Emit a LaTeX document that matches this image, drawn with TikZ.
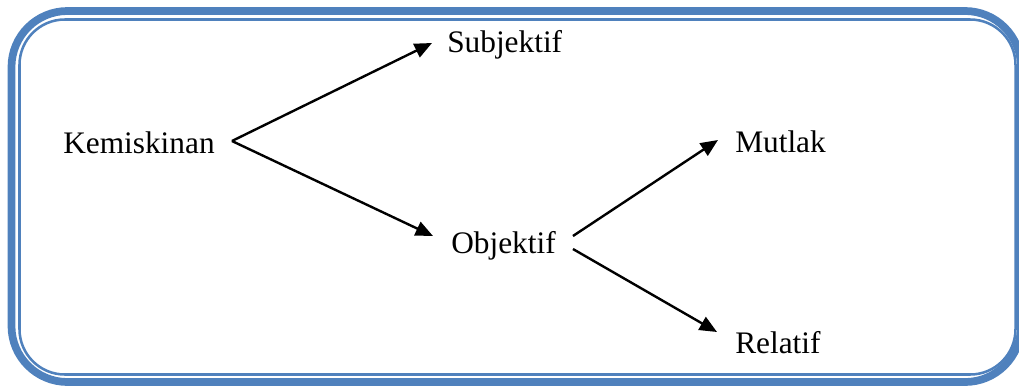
\documentclass[tikz,border=0pt]{standalone}
\usepackage{fontspec}
\setmainfont{Liberation Serif}
\usetikzlibrary{arrows.meta}
\usetikzlibrary{positioning}
\definecolor{frameblue}{RGB}{79,129,189}

\begin{document}
\begin{tikzpicture}[x=0.75pt, y=-0.75pt,
every node/.style = {inner sep=0pt, anchor=base west,
                     font=\fontsize{23.5}{28}\selectfont},
      arr/.style  = {line width=1.8pt, -{Triangle[length=13pt,width=11pt]}}]
\useasboundingbox (0,0) rectangle (1019,386);
% frame
\draw[frameblue, line width=5.8pt, rounded corners=42pt]
    (11.5,11) rectangle (1021,382);
\draw[frameblue, line width=1.9pt, rounded corners=34pt]
    (19.5,19.5) rectangle (1015.5,374.5);
% words
\node (kem) at (63,153)  {Kemiskinan};
\node (sub) at (447,52)  {Subjektif};
\node (obj) at (451,253) {Objektif};
\node (mut) at (735,152) {Mutlak};
\node (rel) at (735,353) {Relatif};
% arrows
    \draw[arr] ([shift={(17,-12)}]kem.base east) -- ([shift={(-15,-9)}]sub.base west);
    \draw[arr] ([shift={(17,-12)}]kem.base east) -- ([shift={(-18,-17)}]obj.base west);
    \draw[arr] ([shift={(17,-17)}]obj.base east) -- ([shift={(-17,-12)}]mut.base west);
    \draw[arr] ([shift={(17,-4)}]obj.base east)  -- ([shift={(-18,-21)}]rel.base west);
\end{tikzpicture}
\end{document}
